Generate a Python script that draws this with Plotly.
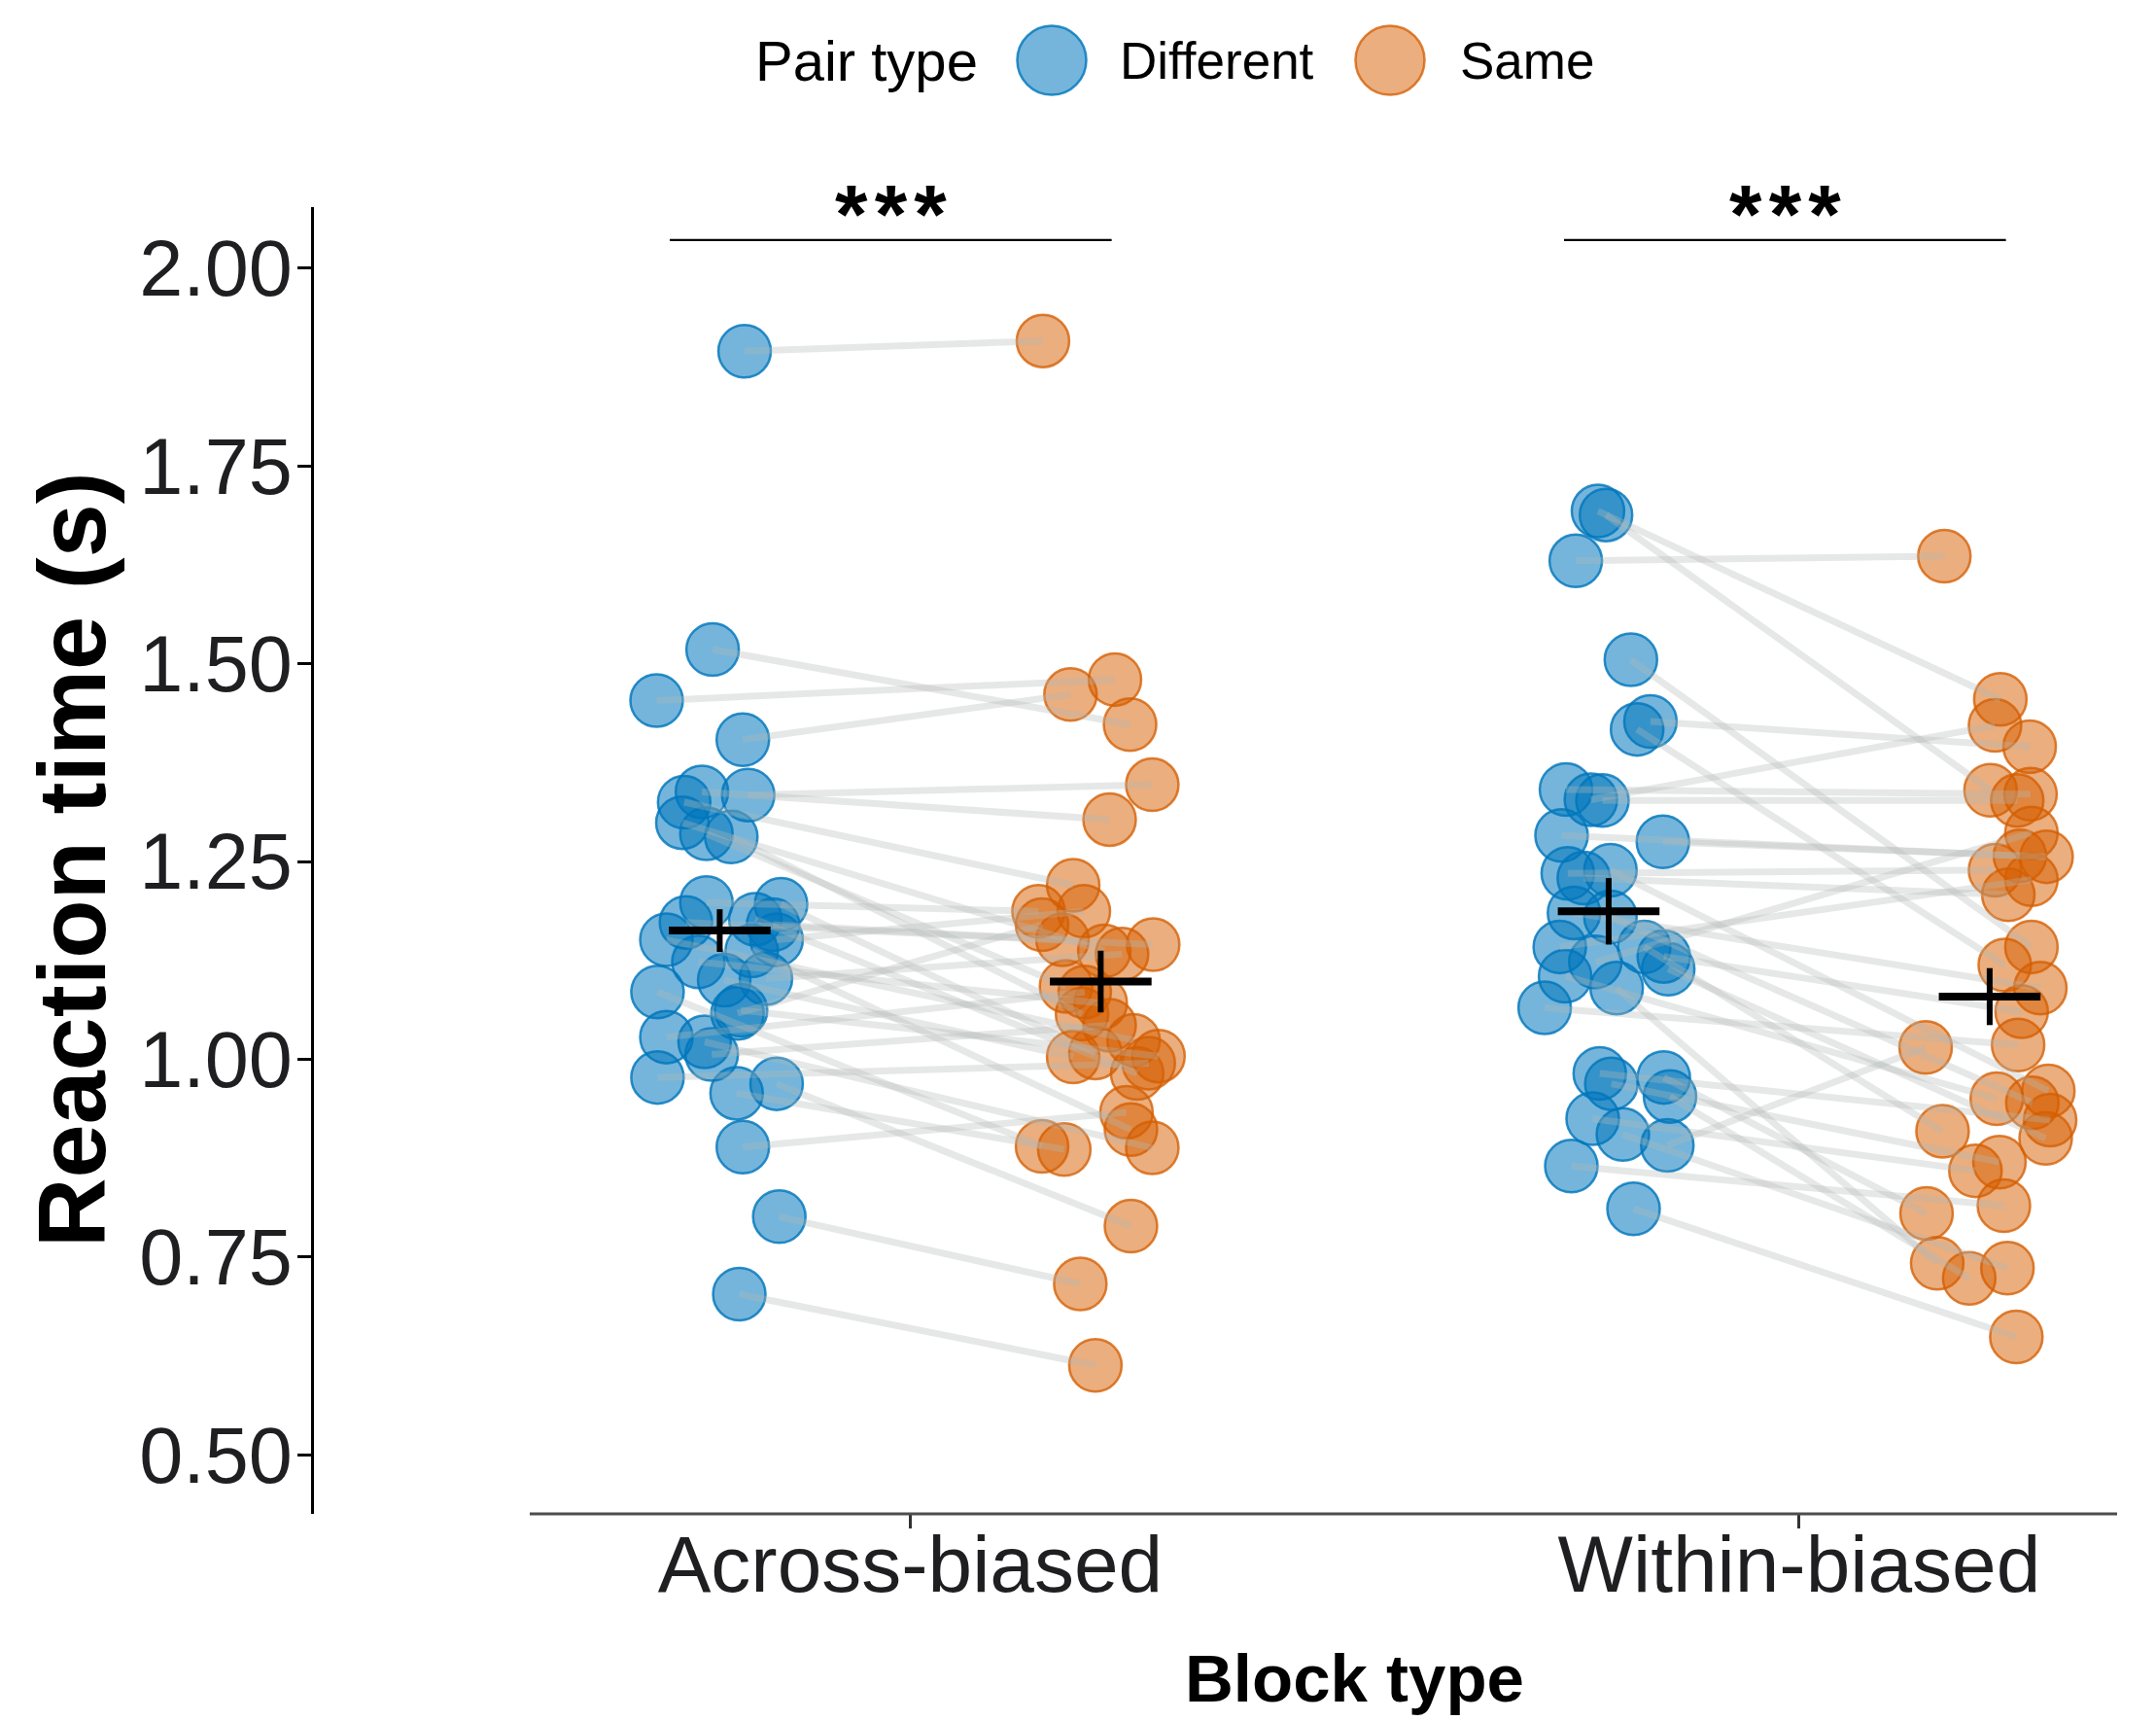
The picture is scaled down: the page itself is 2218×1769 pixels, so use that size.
import plotly.graph_objects as go
import numpy as np

# ---------------- data ----------------
blocks = ["Across-biased", "Within-biased"]
pair_types = ["Different", "Same"]

# participants in the same order in each list (index i = same participant)
across_diff = [1.895, 1.518, 1.4535, 1.404, 1.334, 1.338, 0.801, 0.703, 0.969, 0.889, 0.957,
               1.325, 1.299, 1.285, 1.281, 1.198, 1.196, 1.173, 1.177, 1.170, 1.151, 1.151,
               1.123, 1.137, 1.102, 1.100, 1.085, 1.058, 1.062, 1.028, 1.022, 1.006, 0.977]
across_diff_jitter = [0.028, -0.008, -0.071, 0.026, 0.032, -0.020, 0.067, 0.022, 0.064, 0.026, 0.019,
                      -0.040, -0.042, -0.015, 0.013, -0.015, 0.069, -0.038, 0.040, 0.060, 0.064, -0.060,
                      -0.024, 0.036, 0.052, 0.005, -0.070, 0.020, 0.024, -0.060, -0.017, -0.009, -0.070]
across_same = [1.908, 1.423, 1.480, 1.461, 1.347, 1.303, 0.716, 0.613, 0.789, 0.933, 0.886,
               1.220, 1.137, 1.092, 1.057, 1.187, 1.008, 1.145, 0.982, 1.151, 1.187, 1.024,
               1.071, 0.911, 1.133, 1.003, 0.890, 1.170, 1.004, 1.085, 0.888, 1.043, 0.995]
across_same_jitter = [-0.065, 0.033, 0.016, -0.034, 0.058, 0.010, -0.023, -0.006, 0.034, 0.029, -0.041,
                      -0.031, 0.004, -0.039, -0.021, -0.070, -0.006, 0.059, 0.041, -0.043, -0.019, 0.037,
                      0.000, 0.034, 0.024, -0.031, -0.066, -0.066, 0.065, -0.018, 0.058, 0.010, 0.054]

within_diff = [1.693, 1.688, 1.630, 1.505, 1.427, 1.417, 1.341, 1.328, 1.327, 1.283, 1.275,
               1.235, 1.239, 1.229, 1.185, 1.180, 1.142, 1.142, 1.130, 1.114, 1.123, 1.105,
               1.090, 1.065, 0.982, 0.969, 0.977, 0.953, 0.925, 0.905, 0.891, 0.865, 0.811]
within_diff_jitter = [-0.012, -0.003, -0.037, 0.025, 0.047, 0.032, -0.048, -0.020, -0.007, -0.053, 0.061,
                      -0.046, 0.002, -0.028, -0.039, 0.002, -0.055, 0.040, 0.062, 0.067, -0.015, -0.049,
                      0.009, -0.072, -0.010, 0.003, 0.062, 0.069, -0.018, 0.016, 0.066, -0.042, 0.028]
within_same = [1.455, 1.340, 1.636, 1.142, 1.395, 1.119, 1.335, 1.422, 1.327, 1.257, 1.256,
               1.239, 0.960, 1.208, 1.090, 0.945, 1.227, 0.909, 1.060, 0.900, 1.286, 0.950,
               0.742, 1.018, 0.923, 0.870, 0.805, 0.723, 0.859, 0.736, 1.015, 0.815, 0.649]
within_same_jitter = [0.012, 0.001, -0.051, 0.047, 0.045, 0.017, 0.046, 0.006, 0.031, 0.034, 0.064,
                      0.006, 0.066, 0.021, 0.057, 0.048, 0.047, -0.053, 0.036, 0.063, 0.047, 0.008,
                      -0.059, 0.032, 0.068, 0.011, -0.071, -0.023, -0.016, 0.020, -0.072, 0.016, 0.030]

# standard errors of the mean crosses (Different, Same)
across_se = [0.027, 0.039]
within_se = [0.042, 0.036]

sig_labels = ["*\u200a*\u200a*", "*\u200a*\u200a*"]
y_ticks = [0.50, 0.75, 1.00, 1.25, 1.50, 1.75, 2.00]
y_tick_labels = ["0.50", "0.75", "1.00", "1.25", "1.50", "1.75", "2.00"]

# ---------------- styling / geometry ----------------
OFF = 8                      # page body margin of the html page
W, H = 2218 - OFF, 1769 - OFF
ML, MR, MT, MB = 323 - OFF, 40, 213 - OFF, 212
PW, PH = W - ML - MR, H - MT - MB

def pxx(p):                  # page pixel -> paper x
    return (p - OFF - ML) / PW

def pxy(p):                  # page pixel -> paper y
    return (H - MB - (p - OFF)) / PH

FONT = "Liberation Sans, Arial, sans-serif"
BLUE_FILL = "rgba(0,118,188,0.54)"
BLUE_LINE = "rgba(0,118,188,0.82)"
ORANGE_FILL = "rgba(213,94,0,0.50)"
ORANGE_LINE = "rgba(213,94,0,0.78)"
PAIR_LINE = "rgba(178,184,183,0.33)"
DODGE = 0.2143
MEAN_HALF = 0.0572
MARKER_SIZE = 54
BRACKET_SPAN = [(-0.2705, 0.2266), (-0.2645, 0.2326)]

fig = go.Figure()

groups = [
    (1, across_diff, across_diff_jitter, across_same, across_same_jitter, across_se),
    (2, within_diff, within_diff_jitter, within_same, within_same_jitter, within_se),
]

# points
for pt, fill, line in [("Different", BLUE_FILL, BLUE_LINE), ("Same", ORANGE_FILL, ORANGE_LINE)]:
    xs, ys = [], []
    for cat, dv, dj, sv, sj, se in groups:
        if pt == "Different":
            xs += [cat - DODGE + j for j in dj]
            ys += dv
        else:
            xs += [cat + DODGE + j for j in sj]
            ys += sv
    fig.add_trace(go.Scatter(
        x=xs, y=ys, mode="markers", name=pt, showlegend=False,
        marker=dict(size=MARKER_SIZE, color=fill, line=dict(color=line, width=2.5)),
        hoverinfo="skip"))

# paired lines (one trace per participant so overlaps darken)
for cat, dv, dj, sv, sj, se in groups:
    for i in range(len(dv)):
        fig.add_trace(go.Scatter(
            x=[cat - DODGE + dj[i], cat + DODGE + sj[i]], y=[dv[i], sv[i]],
            mode="lines", line=dict(color=PAIR_LINE, width=7),
            showlegend=False, hoverinfo="skip"))

# mean +/- SE crosses
for cat, dv, dj, sv, sj, se in groups:
    for k, vals in enumerate([dv, sv]):
        cx = cat - DODGE if k == 0 else cat + DODGE
        m = float(np.mean(vals))
        fig.add_trace(go.Scatter(x=[cx - MEAN_HALF, cx + MEAN_HALF], y=[m, m], mode="lines",
                                 line=dict(color="black", width=8), showlegend=False, hoverinfo="skip"))
        fig.add_trace(go.Scatter(x=[cx, cx], y=[m - se[k], m + se[k]], mode="lines",
                                 line=dict(color="black", width=6), showlegend=False, hoverinfo="skip"))

shapes = []
annotations = []

# significance brackets
SIG_Y = 2.0356
for cat, lab, (d0, d1) in zip([1, 2], sig_labels, BRACKET_SPAN):
    x0, x1 = cat + d0, cat + d1
    shapes.append(dict(type="line", xref="x", yref="y", x0=x0, x1=x1, y0=SIG_Y, y1=SIG_Y,
                       line=dict(color="black", width=2.2)))
    annotations.append(dict(x=(x0 + x1) / 2, y=SIG_Y, xref="x", yref="y", text="<b>" + lab + "</b>",
                            showarrow=False, yanchor="bottom", xanchor="center", yshift=-23,
                            font=dict(family=FONT, size=86, color="black")))

# x axis line (starts right of the y axis, as in the reference)
shapes.append(dict(type="line", xref="x", yref="paper", x0=0.5720, x1=2.3577, y0=0, y1=0,
                   line=dict(color="#4d4d4d", width=3)))

# legend drawn by hand (large keys)
LEG_Y = 62
annotations.append(dict(x=pxx(775), y=pxy(LEG_Y), xref="paper", yref="paper", text="Pair type",
                        showarrow=False, xanchor="left", yanchor="middle",
                        font=dict(family=FONT, size=58, color="black")))
for cx, lab, tx, fill, line in [(1082, pair_types[0], 1150, BLUE_FILL, BLUE_LINE),
                                (1430, pair_types[1], 1500, ORANGE_FILL, ORANGE_LINE)]:
    r = 35.5
    shapes.append(dict(type="circle", xref="paper", yref="paper",
                       x0=pxx(cx - r), x1=pxx(cx + r), y0=pxy(LEG_Y + r), y1=pxy(LEG_Y - r),
                       fillcolor=fill, line=dict(color=line, width=2.5)))
    annotations.append(dict(x=pxx(tx), y=pxy(LEG_Y), xref="paper", yref="paper", text=lab,
                            showarrow=False, xanchor="left", yanchor="middle",
                            font=dict(family=FONT, size=53, color="black")))

# axis titles
annotations.append(dict(x=1.5, y=pxy(1726), xref="x", yref="paper", text="<b>Block type</b>",
                        showarrow=False, xanchor="center", yanchor="middle",
                        font=dict(family=FONT, size=69, color="black")))
annotations.append(dict(x=pxx(74), y=pxy(884), xref="paper", yref="paper", text="<b>Reaction time (s)</b>",
                        showarrow=False, xanchor="center", yanchor="middle", textangle=-90,
                        font=dict(family=FONT, size=99, color="black")))

fig.update_layout(
    width=W, height=H,
    margin=dict(l=ML, r=MR, t=MT, b=MB, autoexpand=False),
    paper_bgcolor="white", plot_bgcolor="white",
    showlegend=False,
    shapes=shapes, annotations=annotations,
    xaxis=dict(range=[0.32925, 2.35768], tickmode="array", tickvals=[1, 2], ticktext=blocks,
               showline=False, showgrid=False, zeroline=False,
               ticks="outside", ticklen=14, tickwidth=2.5, tickcolor="#333333",
               ticklabelstandoff=-33,
               tickfont=dict(family=FONT, size=82, color="#1f1f22")),
    yaxis=dict(range=[0.4253, 2.0772], tickmode="array", tickvals=y_ticks, ticktext=y_tick_labels,
               showline=True, linecolor="black", linewidth=3, showgrid=False, zeroline=False,
               ticks="outside", ticklen=14, tickwidth=3, tickcolor="black",
               ticklabelstandoff=-11,
               tickfont=dict(family=FONT, size=81, color="#1f1f22")),
)

fig.write_html("out.html")
